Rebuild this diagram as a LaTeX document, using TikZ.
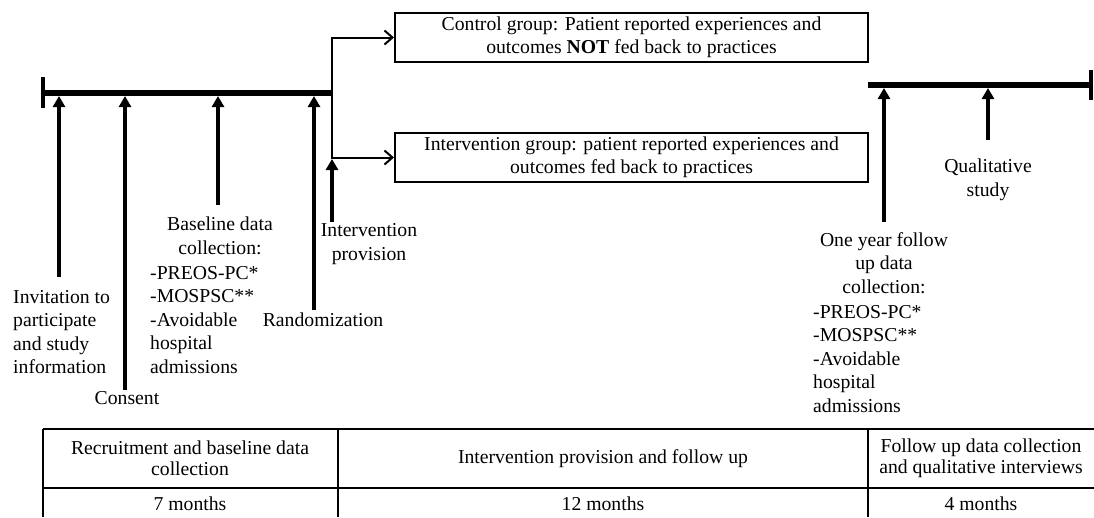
\documentclass[tikz,border=0pt]{standalone}
\usepackage{fontspec}
\setmainfont{Liberation Serif}
\usetikzlibrary{arrows.meta}

\begin{document}
\begin{tikzpicture}
  [x=1pt,y=-1pt,
   every node/.style={inner sep=0pt,font=\fontsize{19.7}{23.5}\selectfont},
   grp/.style={draw,line width=2pt,minimum width=473pt,minimum height=49pt,align=center},
   up/.style={line width=4pt,-{Triangle[length=11pt,width=12pt]}},
   split/.style={line width=2pt,-{Straight Barb[length=8pt,width=14pt]}},
   bar/.style={line width=6pt},
   endtick/.style={line width=4pt},
   grid/.style={line width=1.5pt},
   cell/.style={font=\fontsize{19.7}{21}\selectfont,align=center}]
  \useasboundingbox (0,0) rectangle (1094,517);

  % time lines
  \draw[bar] (43,93) -- (332,93);
  \draw[endtick] (43,77) -- (43,108);
  \draw[bar] (868,85) -- (1091,85);
  \draw[endtick] (1091,70) -- (1091,100);

  % groups
  \node[grp] (ctl) at (631.5,37.5) {Control group: Patient reported experiences and\\outcomes \textbf{NOT} fed back to practices};
  \node[grp] (int) at (631.5,157.5) {Intervention group: patient reported experiences and\\outcomes fed back to practices};
  \coordinate (fork) at (332,93);
  \draw[split] (fork) |- (ctl.west);
  \draw[split] (fork) |- (int.west);

  % labels
  \node[anchor=west,align=left] (inv) at (13,332) {Invitation to\\participate\\and study\\information};
  \node (cons) at (127,398) {Consent};
  \node[align=center] (base) at (220,236) {Baseline data\\collection:};
  \node[anchor=west,align=left] (baselist) at (150,320) {-PREOS-PC*\\-MOSPSC**\\-Avoidable\\hospital\\admissions};
  \node (rand) at (323,320) {Randomization};
  \node[align=center] (prov) at (369,244) {Intervention\\provision};
  \node[align=center] (qual) at (988,180) {Qualitative\\study};
  \node[align=center] (fu) at (884,263) {One year follow\\up data\\collection:};
  \node[anchor=west,align=left] (fulist) at (813,359) {-PREOS-PC*\\-MOSPSC**\\-Avoidable\\hospital\\admissions};

  % arrow ends
  \coordinate (f1) at (59,277);  \coordinate (h1) at (59,96);
  \coordinate (f2) at (125,390); \coordinate (h2) at (125,96);
  \coordinate (f3) at (218,205); \coordinate (h3) at (218,96);
  \coordinate (f4) at (314,310); \coordinate (h4) at (314,96);
  \coordinate (f5) at (332,222); \coordinate (h5) at (332,159);
  \coordinate (f6) at (884,222); \coordinate (h6) at (884,88);
  \coordinate (f7) at (988,140); \coordinate (h7) at (988,88);

\foreach \from/\to in
{f1/h1, f2/h2, f3/h3, f4/h4, f5/h5, f6/h6, f7/h7}
    \draw[up] (\from) -- (\to);

  % table
  \draw[grid] (43,429) -- (1094,429);
  \draw[grid] (43,488) -- (1094,488);
  \foreach \x in {43,338,868}
    \draw[grid] (\x,429) -- (\x,517);
  \node[cell] (c1) at (190,458.5) {Recruitment and baseline data\\collection};
  \node[cell] (c2) at (603,458.5) {Intervention provision and follow up};
  \node[cell] (c3) at (981,458.5) {Follow up data collection\\and qualitative interviews};
  \node[cell] (m1) at (190,504) {7 months};
  \node[cell] (m2) at (603,504) {12 months};
  \node[cell] (m3) at (981,504) {4 months};
\end{tikzpicture}
\end{document}
